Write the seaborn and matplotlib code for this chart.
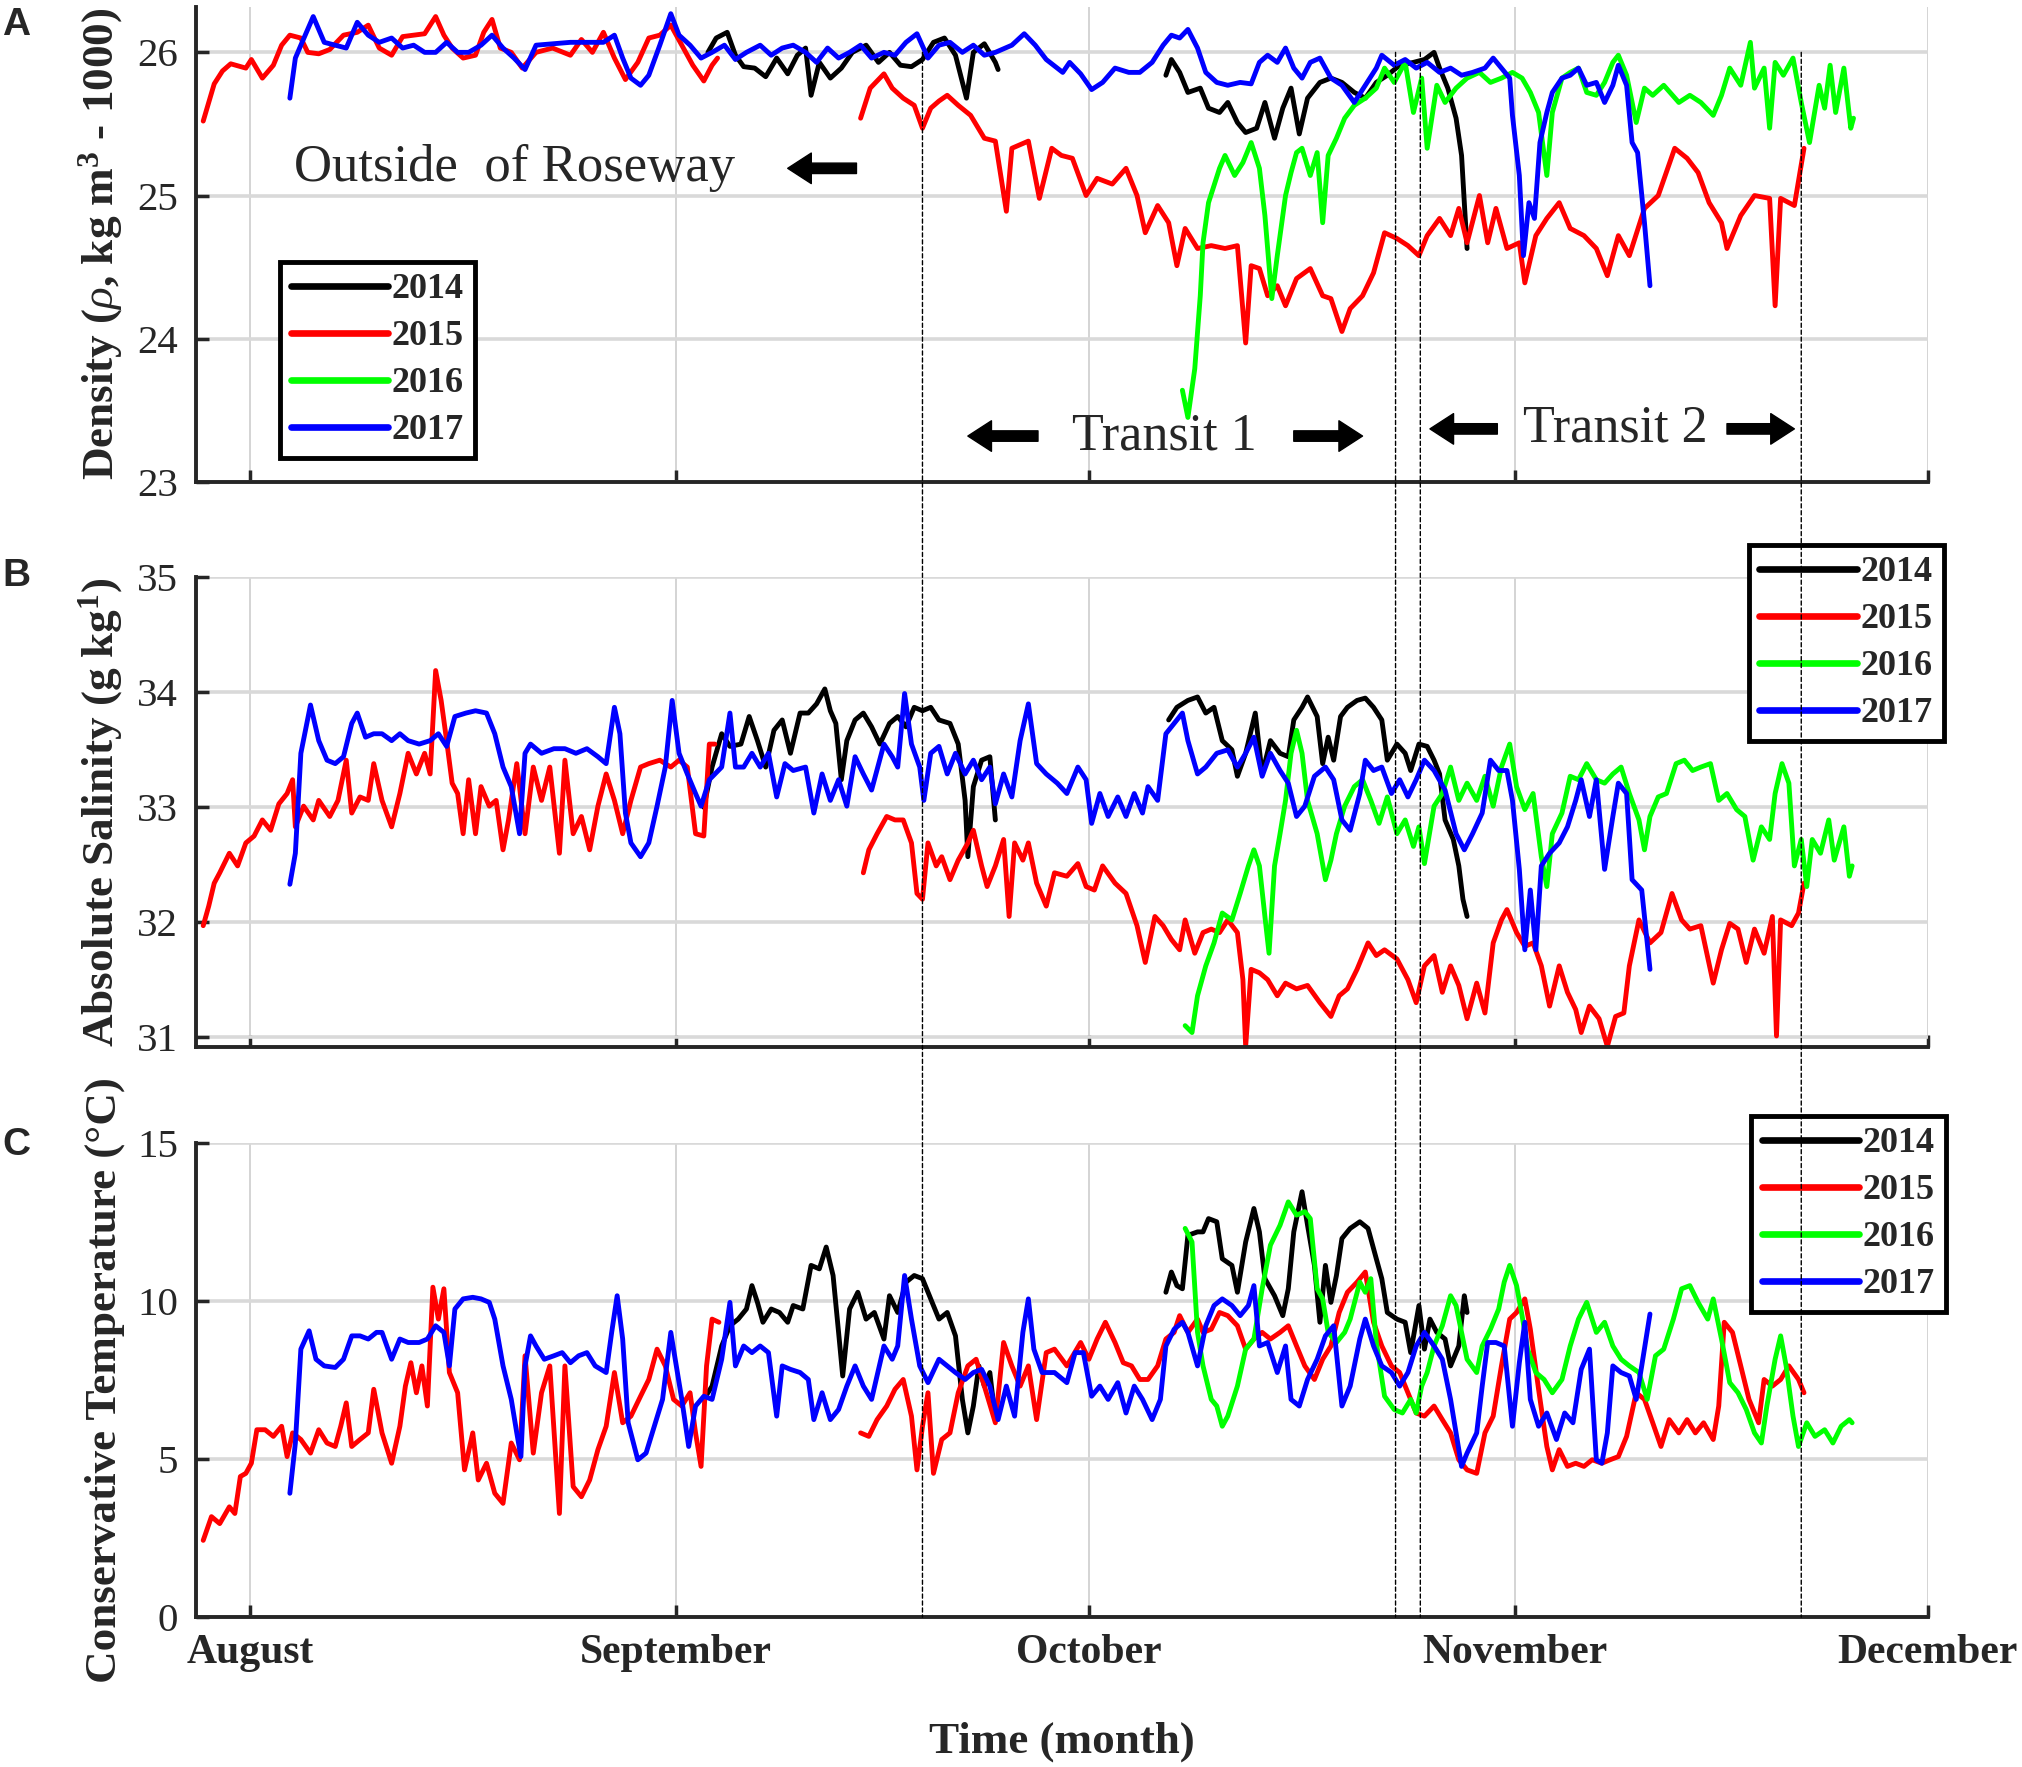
import numpy as np
import pandas as pd
import matplotlib
matplotlib.use('Agg')
from matplotlib import pyplot as plt
from matplotlib.lines import Line2D
from matplotlib.patches import ConnectionPatch
import seaborn as sns

# x = days since 1 August as (day, value)
month_days = [0, 31, 61, 92, 122]
month_names = ['August', 'September', 'October', 'November', 'December']
years = ['2014', '2015', '2016', '2017']
colors = ['#000000', '#ff0000', '#00ff00', '#0000ff']
transit_days = [48.9, 83.3, 85.1, 112.8]

dens_2014 = [(33.3, 26.00), (33.9, 26.10), (34.7, 26.14), (35.3, 25.98), (35.9, 25.90), (36.7, 25.89), (37.5, 25.83),
             (38.3, 25.96), (39.1, 25.85), (39.8, 25.98), (40.4, 26.03), (40.8, 25.70), (41.4, 25.93), (42.2, 25.82),
             (43.0, 25.89), (43.8, 26.00), (44.8, 26.05), (45.7, 25.93), (46.5, 26.00), (47.3, 25.91), (48.1, 25.90),
             (48.9, 25.95), (49.7, 26.07), (50.5, 26.10), (51.3, 25.98), (52.1, 25.68), (52.6, 26.00), (53.4, 26.06),
             (54.2, 25.93), (54.4, 25.88),
             (66.6, 25.84), (67.0, 25.95), (67.6, 25.86), (68.2, 25.72), (69.1, 25.75), (69.7, 25.61), (70.5, 25.58),
             (71.1, 25.65), (71.8, 25.51), (72.4, 25.44), (73.2, 25.47), (73.8, 25.65), (74.5, 25.40), (75.1, 25.61),
             (75.7, 25.75), (76.3, 25.43), (76.9, 25.68), (77.8, 25.79), (78.6, 25.82), (79.4, 25.79), (80.3, 25.72),
             (81.1, 25.68), (81.9, 25.79), (82.7, 25.84), (83.6, 25.91), (84.6, 25.93), (85.4, 25.95), (86.1, 26.00),
             (86.5, 25.89), (87.1, 25.75), (87.7, 25.54), (88.1, 25.28), (88.3, 24.95), (88.5, 24.63)]

dens_2015 = [(-3.4, 25.52), (-2.6, 25.78), (-2.0, 25.87), (-1.4, 25.92), (-0.3, 25.89), (0.1, 25.95), (0.9, 25.82),
             (1.7, 25.91), (2.3, 26.05), (2.9, 26.12), (3.7, 26.10), (4.2, 26.00), (5.0, 25.99), (5.8, 26.02),
             (6.8, 26.12), (7.8, 26.14), (8.6, 26.19), (9.4, 26.03), (10.3, 25.98), (11.1, 26.11), (11.9, 26.12),
             (12.7, 26.13), (13.5, 26.25), (14.1, 26.12), (14.7, 26.03), (15.5, 25.96), (16.4, 25.98), (17.0, 26.14),
             (17.6, 26.23), (18.2, 26.03), (19.0, 26.00), (19.8, 25.89), (20.8, 26.00), (22.0, 26.03), (23.3, 25.98),
             (24.1, 26.09), (24.9, 26.00), (25.7, 26.14), (26.5, 25.96), (27.3, 25.81), (28.2, 25.93), (29.0, 26.10),
             (29.8, 26.12), (30.6, 26.19), (31.4, 26.05), (32.2, 25.91), (33.0, 25.80), (33.6, 25.91), (34.0, 25.96),
             (44.4, 25.54), (45.1, 25.75), (46.1, 25.85), (46.7, 25.75), (47.5, 25.68), (48.3, 25.63), (48.9, 25.47),
             (49.5, 25.61), (50.1, 25.66), (50.7, 25.70), (51.5, 25.63), (52.4, 25.56), (53.4, 25.40), (54.2, 25.38),
             (55.0, 24.89), (55.4, 25.33), (56.6, 25.38), (57.4, 24.98), (58.3, 25.33), (59.0, 25.28), (59.8, 25.26),
             (60.8, 25.00), (61.6, 25.12), (62.7, 25.08), (63.7, 25.19), (64.5, 25.00), (65.1, 24.74), (66.0, 24.93),
             (66.8, 24.81), (67.4, 24.51), (68.0, 24.77), (68.9, 24.63), (69.9, 24.65), (70.9, 24.63), (71.8, 24.65),
             (72.4, 23.97), (72.8, 24.51), (73.4, 24.49), (74.0, 24.30), (74.7, 24.37), (75.3, 24.23), (76.1, 24.42),
             (77.1, 24.49), (78.0, 24.30), (78.6, 24.28), (79.4, 24.05), (80.0, 24.21), (80.9, 24.30), (81.7, 24.46),
             (82.5, 24.74), (83.4, 24.70), (84.2, 24.65), (85.0, 24.58), (85.6, 24.72), (86.5, 24.84), (87.3, 24.72),
             (87.9, 24.91), (88.5, 24.67), (89.4, 25.00), (90.0, 24.67), (90.6, 24.91), (91.4, 24.63), (92.3, 24.67),
             (92.7, 24.39), (93.5, 24.72), (94.3, 24.84), (95.2, 24.95), (96.0, 24.77), (97.0, 24.72), (97.9, 24.63),
             (98.7, 24.44), (99.5, 24.72), (100.3, 24.58), (101.4, 24.91), (102.4, 25.00), (103.6, 25.33),
             (104.5, 25.26), (105.3, 25.16), (106.1, 24.95), (107.0, 24.81), (107.4, 24.63), (108.4, 24.86),
             (109.4, 25.00), (110.5, 24.98), (110.9, 24.23), (111.3, 24.98), (112.3, 24.93), (113.0, 25.33)]

dens_2016 = [(67.8, 23.64), (68.2, 23.45), (68.7, 23.79), (69.1, 24.30), (69.3, 24.67), (69.7, 24.95), (70.5, 25.19),
             (70.9, 25.28), (71.6, 25.14), (72.2, 25.23), (72.8, 25.37), (73.4, 25.19), (73.8, 24.86), (74.3, 24.28),
             (74.7, 24.58), (75.3, 25.00), (75.7, 25.16), (76.1, 25.30), (76.5, 25.33), (77.1, 25.14), (77.6, 25.30),
             (78.0, 24.81), (78.4, 25.28), (79.0, 25.40), (79.6, 25.54), (80.3, 25.63), (81.1, 25.68), (81.9, 25.75),
             (82.5, 25.89), (83.2, 25.79), (84.0, 25.93), (84.6, 25.58), (85.2, 25.82), (85.6, 25.33), (86.3, 25.77),
             (86.9, 25.65), (87.7, 25.75), (88.5, 25.82), (89.4, 25.86), (90.2, 25.79), (91.0, 25.82), (91.8, 25.86),
             (92.5, 25.82), (93.1, 25.72), (93.7, 25.58), (94.3, 25.14), (94.7, 25.58), (95.4, 25.82), (96.0, 25.86),
             (96.6, 25.89), (97.2, 25.72), (97.9, 25.70), (98.5, 25.79), (99.1, 25.93), (99.5, 25.98), (100.1, 25.84),
             (100.8, 25.51), (101.4, 25.75), (102.0, 25.70), (102.8, 25.77), (103.9, 25.65), (104.7, 25.70),
             (105.5, 25.65), (106.4, 25.56), (107.0, 25.70), (107.6, 25.89), (108.4, 25.77), (109.1, 26.07),
             (109.4, 25.75), (110.1, 25.89), (110.5, 25.47), (110.9, 25.93), (111.5, 25.84), (112.2, 25.96),
             (112.8, 25.65), (113.4, 25.37), (114.1, 25.77), (114.5, 25.61), (114.9, 25.91), (115.3, 25.58),
             (115.9, 25.89), (116.4, 25.47), (116.6, 25.54)]

dens_2017 = [(2.9, 25.68), (3.3, 25.96), (3.7, 26.05), (4.6, 26.25), (5.4, 26.07), (6.2, 26.05), (7.0, 26.03),
             (7.8, 26.21), (8.6, 26.12), (9.4, 26.07), (10.3, 26.10), (11.1, 26.03), (11.9, 26.05), (12.7, 26.00),
             (13.5, 26.00), (14.3, 26.07), (15.1, 26.00), (15.9, 26.00), (16.8, 26.05), (17.6, 26.12), (18.4, 26.03),
             (19.2, 25.96), (20.0, 25.88), (20.8, 26.05), (22.1, 26.06), (23.3, 26.07), (24.5, 26.07), (25.7, 26.07),
             (26.5, 26.12), (27.1, 25.96), (27.7, 25.82), (28.4, 25.77), (29.0, 25.84), (29.8, 26.05), (30.6, 26.27),
             (31.2, 26.12), (32.0, 26.05), (32.8, 25.96), (33.6, 26.00), (34.5, 26.05), (35.3, 25.95), (36.1, 26.00),
             (37.1, 26.05), (37.9, 25.98), (38.7, 26.03), (39.5, 26.05), (40.4, 26.00), (41.2, 25.93), (42.0, 26.03),
             (42.8, 25.96), (43.6, 26.00), (44.4, 26.05), (45.2, 25.96), (46.1, 26.00), (46.9, 25.98), (47.7, 26.07),
             (48.5, 26.13), (49.3, 25.96), (50.1, 26.05), (50.9, 26.07), (51.8, 26.00), (52.6, 26.05), (53.4, 25.98),
             (54.2, 26.00), (55.4, 26.05), (56.3, 26.13), (57.1, 26.05), (57.9, 25.95), (59.1, 25.86), (59.6, 25.93),
             (60.4, 25.85), (61.2, 25.74), (62.0, 25.79), (62.9, 25.89), (63.9, 25.86), (64.7, 25.86), (65.6, 25.93),
             (66.4, 26.05), (67.0, 26.12), (67.6, 26.10), (68.2, 26.16), (68.9, 26.03), (69.5, 25.86), (70.3, 25.79),
             (71.1, 25.77), (72.0, 25.79), (72.8, 25.78), (73.4, 25.93), (74.0, 25.98), (74.7, 25.93), (75.3, 26.03),
             (75.9, 25.89), (76.5, 25.82), (77.1, 25.93), (77.8, 25.96), (78.6, 25.82), (79.4, 25.77), (80.3, 25.65),
             (81.1, 25.77), (81.9, 25.89), (82.3, 25.98), (83.2, 25.91), (84.0, 25.95), (84.8, 25.89), (85.6, 25.93),
             (86.5, 25.86), (87.3, 25.89), (88.1, 25.84), (88.9, 25.86), (89.8, 25.89), (90.4, 25.96), (91.0, 25.89),
             (91.6, 25.82), (91.8, 25.56), (92.3, 25.14), (92.6, 24.58), (93.0, 24.95), (93.4, 24.84), (93.8, 25.37),
             (94.3, 25.58), (94.7, 25.72), (95.4, 25.82), (96.0, 25.84), (96.6, 25.89), (97.2, 25.77), (97.9, 25.79),
             (98.5, 25.65), (99.1, 25.77), (99.5, 25.91), (100.1, 25.77), (100.5, 25.37), (100.9, 25.30),
             (101.4, 24.81), (101.8, 24.37)]

sal_2014 = [(33.0, 33.00), (33.6, 33.35), (34.3, 33.64), (34.9, 33.53), (35.7, 33.55), (36.3, 33.79), (36.9, 33.58),
            (37.5, 33.35), (38.1, 33.67), (38.7, 33.76), (39.3, 33.47), (40.0, 33.82), (40.6, 33.82), (41.2, 33.90),
            (41.8, 34.03), (42.2, 33.84), (42.6, 33.73), (43.0, 33.24), (43.4, 33.58), (44.0, 33.76), (44.6, 33.82),
            (45.2, 33.70), (45.8, 33.55), (46.5, 33.73), (47.1, 33.79), (47.7, 33.70), (48.3, 33.87), (48.9, 33.84),
            (49.5, 33.87), (50.1, 33.76), (50.9, 33.73), (51.5, 33.55), (52.0, 33.06), (52.2, 32.57), (52.6, 33.18),
            (53.2, 33.41), (53.8, 33.44), (54.2, 32.89),
            (66.8, 33.76), (67.4, 33.87), (68.2, 33.93), (68.9, 33.96), (69.5, 33.82), (70.1, 33.87), (70.7, 33.58),
            (71.4, 33.50), (71.8, 33.27), (72.4, 33.47), (73.1, 33.82), (73.6, 33.29), (74.2, 33.58), (74.9, 33.47),
            (75.5, 33.44), (75.9, 33.76), (76.5, 33.87), (76.9, 33.96), (77.6, 33.79), (78.0, 33.38), (78.4, 33.61),
            (78.8, 33.41), (79.3, 33.79), (79.8, 33.87), (80.5, 33.93), (81.1, 33.95), (81.7, 33.87), (82.3, 33.76),
            (82.7, 33.41), (83.4, 33.55), (84.0, 33.47), (84.4, 33.32), (85.0, 33.55), (85.6, 33.53), (86.1, 33.41),
            (86.5, 33.29), (86.9, 32.89), (87.5, 32.72), (87.9, 32.49), (88.2, 32.20), (88.5, 32.05)]

sal_2015 = [(-3.4, 31.97), (-3.0, 32.14), (-2.6, 32.34), (-2.2, 32.43), (-1.5, 32.60), (-0.9, 32.49), (-0.3, 32.69),
            (0.3, 32.75), (0.9, 32.89), (1.5, 32.80), (2.1, 33.03), (2.7, 33.12), (3.1, 33.24), (3.3, 32.83),
            (3.9, 33.01), (4.6, 32.89), (5.0, 33.06), (5.8, 32.92), (6.4, 33.06), (7.0, 33.41), (7.4, 32.95),
            (8.0, 33.09), (8.6, 33.06), (9.0, 33.38), (9.6, 33.06), (10.3, 32.83), (10.9, 33.12), (11.5, 33.47),
            (12.1, 33.29), (12.7, 33.47), (13.1, 33.29), (13.5, 34.19), (13.9, 33.93), (14.3, 33.58), (14.7, 33.21),
            (15.1, 33.12), (15.5, 32.77), (15.9, 33.24), (16.4, 32.77), (16.8, 33.18), (17.4, 33.01), (17.9, 33.06),
            (18.4, 32.63), (18.8, 32.89), (19.4, 33.38), (20.0, 32.77), (20.6, 33.35), (21.2, 33.06), (21.8, 33.35),
            (22.5, 32.60), (22.9, 33.41), (23.5, 32.77), (24.1, 32.92), (24.7, 32.63), (25.3, 33.01), (25.9, 33.29),
            (26.5, 33.06), (27.1, 32.77), (27.7, 33.06), (28.4, 33.35), (29.0, 33.38), (29.8, 33.41), (30.6, 33.35),
            (31.2, 33.41), (31.8, 33.35), (32.4, 32.77), (33.0, 32.75), (33.4, 33.55), (33.8, 33.55),
            (44.6, 32.43), (45.0, 32.63), (45.6, 32.77), (46.3, 32.92), (46.9, 32.89), (47.5, 32.89), (48.1, 32.69),
            (48.5, 32.25), (48.9, 32.20), (49.3, 32.69), (49.9, 32.49), (50.3, 32.57), (50.9, 32.37), (51.5, 32.54),
            (52.2, 32.69), (52.6, 32.80), (53.2, 32.49), (53.6, 32.31), (54.2, 32.49), (54.8, 32.72), (55.2, 32.05),
            (55.6, 32.69), (56.2, 32.54), (56.6, 32.69), (57.2, 32.34), (57.9, 32.14), (58.5, 32.43), (59.4, 32.40),
            (60.2, 32.51), (60.8, 32.31), (61.4, 32.28), (62.0, 32.49), (62.9, 32.34), (63.7, 32.25), (64.5, 31.97),
            (65.1, 31.65), (65.8, 32.05), (66.4, 31.97), (67.0, 31.85), (67.6, 31.76), (68.0, 32.02), (68.7, 31.73),
            (69.3, 31.91), (69.9, 31.94), (70.5, 31.91), (71.1, 32.02), (71.8, 31.91), (72.2, 31.50), (72.4, 30.92),
            (72.8, 31.59), (73.4, 31.56), (74.0, 31.50), (74.7, 31.36), (75.3, 31.47), (76.1, 31.42), (76.9, 31.45),
            (77.8, 31.30), (78.6, 31.18), (79.2, 31.36), (79.8, 31.42), (80.5, 31.59), (81.3, 31.82), (81.9, 31.71),
            (82.5, 31.76), (83.4, 31.68), (84.2, 31.50), (84.8, 31.30), (85.4, 31.62), (86.1, 31.71), (86.7, 31.39),
            (87.3, 31.62), (87.9, 31.45), (88.5, 31.16), (89.2, 31.47), (89.8, 31.21), (90.4, 31.82), (91.0, 32.02),
            (91.4, 32.11), (92.1, 31.91), (92.7, 31.79), (93.3, 31.82), (93.9, 31.62), (94.5, 31.27), (95.2, 31.62),
            (95.8, 31.39), (96.4, 31.24), (96.8, 31.04), (97.4, 31.27), (98.1, 31.16), (98.7, 30.92), (99.3, 31.18),
            (99.9, 31.21), (100.3, 31.62), (101.0, 32.02), (101.8, 31.82), (102.6, 31.91), (103.4, 32.25),
            (104.1, 32.02), (104.7, 31.94), (105.5, 31.97), (106.4, 31.47), (107.0, 31.76), (107.6, 31.99),
            (108.2, 31.94), (108.8, 31.65), (109.4, 31.94), (110.1, 31.73), (110.7, 32.05), (111.0, 31.01),
            (111.3, 32.02), (112.1, 31.97), (112.6, 32.08), (113.0, 32.34)]

sal_2016 = [(68.0, 31.10), (68.5, 31.04), (68.9, 31.36), (69.5, 31.62), (70.1, 31.82), (70.7, 32.08), (71.4, 32.02),
            (72.0, 32.25), (72.6, 32.49), (73.0, 32.63), (73.4, 32.49), (73.8, 32.05), (74.1, 31.73), (74.5, 32.49),
            (74.9, 32.77), (75.3, 33.06), (75.7, 33.47), (76.1, 33.67), (76.5, 33.47), (76.9, 33.06), (77.6, 32.77),
            (78.2, 32.37), (78.6, 32.54), (79.0, 32.77), (79.6, 33.01), (80.3, 33.18), (80.9, 33.24), (81.5, 33.06),
            (82.1, 32.86), (82.7, 33.09), (83.4, 32.77), (84.0, 32.89), (84.6, 32.66), (85.0, 32.83), (85.4, 32.51),
            (86.1, 33.01), (86.7, 33.12), (87.3, 33.35), (87.9, 33.06), (88.5, 33.21), (89.2, 33.06), (89.8, 33.27),
            (90.4, 33.01), (91.0, 33.35), (91.6, 33.55), (92.1, 33.18), (92.7, 32.98), (93.3, 33.12), (93.9, 32.57),
            (94.3, 32.31), (94.7, 32.77), (95.4, 32.95), (96.0, 33.27), (96.6, 33.24), (97.2, 33.38), (97.9, 33.24),
            (98.5, 33.21), (99.1, 33.29), (99.7, 33.35), (100.3, 33.12), (101.0, 32.89), (101.4, 32.63),
            (101.8, 32.92), (102.4, 33.09), (103.0, 33.12), (103.7, 33.38), (104.3, 33.41), (104.9, 33.32),
            (105.5, 33.35), (106.2, 33.38), (106.8, 33.06), (107.4, 33.12), (108.1, 32.98), (108.7, 32.92),
            (109.3, 32.54), (109.9, 32.83), (110.5, 32.72), (110.9, 33.12), (111.4, 33.38), (111.9, 33.21),
            (112.3, 32.49), (112.8, 32.72), (113.2, 32.31), (113.6, 32.72), (114.2, 32.60), (114.8, 32.89),
            (115.2, 32.54), (115.9, 32.83), (116.3, 32.40), (116.5, 32.49)]

sal_2017 = [(2.9, 32.33), (3.3, 32.60), (3.7, 33.47), (4.4, 33.89), (5.0, 33.58), (5.6, 33.41), (6.2, 33.38),
            (6.8, 33.44), (7.4, 33.73), (7.8, 33.82), (8.4, 33.61), (9.0, 33.64), (9.6, 33.64), (10.3, 33.58),
            (10.9, 33.64), (11.5, 33.58), (12.3, 33.55), (13.1, 33.58), (13.7, 33.64), (14.3, 33.53), (14.9, 33.79),
            (15.7, 33.82), (16.4, 33.84), (17.2, 33.82), (17.8, 33.64), (18.4, 33.35), (19.0, 33.18), (19.6, 32.77),
            (20.0, 33.47), (20.4, 33.55), (21.2, 33.47), (22.1, 33.51), (22.9, 33.51), (23.7, 33.47), (24.5, 33.51),
            (25.3, 33.44), (25.9, 33.38), (26.5, 33.87), (26.9, 33.64), (27.3, 32.95), (27.7, 32.69), (28.4, 32.57),
            (29.0, 32.69), (29.6, 33.01), (30.2, 33.35), (30.7, 33.93), (31.2, 33.47), (31.8, 33.29), (32.4, 33.12),
            (32.8, 33.01), (33.4, 33.24), (34.3, 33.35), (34.9, 33.82), (35.3, 33.35), (35.9, 33.35), (36.5, 33.47),
            (37.1, 33.35), (37.7, 33.47), (38.3, 33.09), (38.9, 33.38), (39.5, 33.32), (40.4, 33.35), (41.0, 32.95),
            (41.6, 33.29), (42.2, 33.06), (42.8, 33.24), (43.4, 33.01), (44.0, 33.44), (44.6, 33.29), (45.2, 33.15),
            (46.1, 33.55), (46.7, 33.44), (47.1, 33.35), (47.6, 33.99), (48.1, 33.55), (48.7, 33.35), (49.0, 33.06),
            (49.5, 33.47), (50.1, 33.53), (50.7, 33.29), (51.3, 33.47), (52.0, 33.29), (52.6, 33.41), (53.2, 33.24),
            (53.8, 33.35), (54.2, 33.03), (54.8, 33.29), (55.4, 33.09), (56.0, 33.58), (56.6, 33.90), (57.2, 33.38),
            (57.9, 33.29), (58.7, 33.21), (59.4, 33.12), (60.2, 33.35), (60.8, 33.24), (61.2, 32.86), (61.8, 33.12),
            (62.4, 32.92), (63.1, 33.09), (63.7, 32.92), (64.3, 33.12), (64.9, 32.95), (65.3, 33.18), (66.0, 33.06),
            (66.6, 33.64), (67.2, 33.73), (67.8, 33.82), (68.2, 33.58), (68.9, 33.29), (69.5, 33.35), (70.3, 33.47),
            (71.1, 33.50), (71.8, 33.35), (72.4, 33.47), (73.0, 33.61), (73.6, 33.27), (74.2, 33.47), (74.9, 33.32),
            (75.5, 33.21), (76.1, 32.92), (76.7, 33.01), (77.4, 33.27), (78.2, 33.35), (78.8, 33.24), (79.4, 32.89),
            (80.0, 32.80), (80.7, 33.12), (81.1, 33.41), (81.7, 33.32), (82.3, 33.35), (83.0, 33.12), (83.6, 33.24),
            (84.2, 33.09), (84.8, 33.24), (85.4, 33.41), (86.1, 33.32), (86.9, 33.15), (87.7, 32.77), (88.3, 32.63),
            (88.9, 32.77), (89.6, 32.95), (90.2, 33.41), (90.8, 33.32), (91.4, 33.32), (91.8, 33.06), (92.3, 32.46),
            (92.7, 31.76), (93.1, 32.28), (93.5, 31.76), (93.9, 32.49), (94.5, 32.60), (95.2, 32.69), (95.8, 32.83),
            (96.4, 33.06), (96.8, 33.24), (97.4, 32.92), (97.9, 33.24), (98.5, 32.46), (99.1, 32.92), (99.5, 33.21),
            (100.1, 33.12), (100.5, 32.37), (101.2, 32.28), (101.8, 31.59)]

temp_2014 = [(33.0, 6.89), (33.6, 7.31), (34.3, 8.58), (34.9, 9.22), (35.5, 9.43), (36.1, 9.75), (36.5, 10.49),
             (36.9, 9.96), (37.3, 9.33), (37.9, 9.75), (38.5, 9.64), (39.1, 9.33), (39.5, 9.86), (40.2, 9.75),
             (40.8, 11.13), (41.4, 11.02), (41.9, 11.71), (42.4, 10.81), (42.8, 9.01), (43.1, 7.63), (43.6, 9.75),
             (44.2, 10.28), (44.8, 9.43), (45.4, 9.64), (46.1, 8.80), (46.5, 10.17), (47.1, 9.64), (47.7, 10.60),
             (48.3, 10.81), (48.9, 10.71), (49.5, 10.07), (50.1, 9.43), (50.7, 9.64), (51.3, 8.90), (51.8, 6.89),
             (52.2, 5.83), (52.6, 6.68), (53.0, 7.95), (53.4, 7.31), (53.8, 7.74), (54.2, 6.25),
             (66.6, 10.28), (67.0, 10.92), (67.4, 10.49), (67.8, 10.39), (68.2, 12.08), (68.9, 12.19), (69.3, 12.19),
             (69.7, 12.61), (70.3, 12.51), (70.7, 11.34), (71.4, 11.13), (71.8, 10.28), (72.4, 11.87), (73.0, 12.93),
             (73.4, 12.19), (73.8, 10.71), (74.5, 10.17), (75.1, 9.54), (75.5, 10.39), (75.9, 12.19), (76.5, 13.46),
             (76.9, 12.40), (77.4, 11.13), (77.8, 9.33), (78.2, 11.13), (78.6, 9.96), (79.0, 10.81), (79.4, 11.98),
             (80.0, 12.30), (80.7, 12.51), (81.3, 12.30), (81.9, 11.34), (82.3, 10.71), (82.7, 9.64), (83.4, 9.43),
             (84.0, 9.33), (84.4, 8.37), (85.0, 9.86), (85.4, 8.48), (85.8, 9.43), (86.3, 9.01), (86.9, 8.80),
             (87.3, 7.95), (87.9, 8.58), (88.3, 10.17), (88.5, 9.64)]

temp_2015 = [(-3.4, 2.43), (-2.8, 3.18), (-2.2, 2.96), (-1.5, 3.49), (-1.1, 3.28), (-0.7, 4.45), (-0.3, 4.55),
             (0.1, 4.87), (0.5, 5.93), (1.1, 5.93), (1.7, 5.72), (2.3, 6.04), (2.7, 5.08), (3.1, 5.83), (3.7, 5.62),
             (4.4, 5.19), (5.0, 5.93), (5.6, 5.51), (6.2, 5.40), (6.6, 6.04), (7.0, 6.78), (7.4, 5.40), (8.0, 5.62),
             (8.6, 5.83), (9.0, 7.21), (9.6, 5.83), (10.3, 4.87), (10.9, 6.04), (11.3, 7.31), (11.7, 8.05),
             (12.1, 7.10), (12.5, 7.95), (12.9, 6.68), (13.3, 10.44), (13.7, 9.43), (14.1, 10.39), (14.5, 7.74),
             (15.1, 7.10), (15.6, 4.66), (16.2, 5.83), (16.6, 4.34), (17.2, 4.87), (17.8, 3.92), (18.4, 3.60),
             (19.0, 5.51), (19.6, 4.98), (20.0, 8.27), (20.6, 5.19), (21.2, 7.10), (21.8, 7.95), (22.5, 3.28),
             (22.9, 7.95), (23.5, 4.13), (24.1, 3.81), (24.7, 4.34), (25.3, 5.30), (25.9, 6.04), (26.5, 7.74),
             (27.1, 6.15), (27.7, 6.36), (28.4, 6.99), (29.0, 7.52), (29.6, 8.48), (30.2, 7.95), (30.8, 6.89),
             (31.4, 6.68), (32.0, 7.10), (32.4, 5.83), (32.8, 4.77), (33.2, 7.95), (33.6, 9.43), (34.1, 9.33),
             (44.4, 5.83), (45.0, 5.72), (45.6, 6.25), (46.3, 6.68), (46.9, 7.21), (47.5, 7.52), (48.1, 6.36),
             (48.5, 4.66), (48.9, 6.04), (49.3, 7.10), (49.7, 4.55), (50.3, 5.62), (50.9, 5.83), (51.5, 7.10),
             (52.2, 7.95), (52.8, 8.16), (53.4, 7.31), (54.2, 6.15), (54.8, 8.69), (55.4, 7.95), (56.0, 7.31),
             (56.6, 7.95), (57.2, 6.25), (57.9, 8.37), (58.5, 8.48), (59.4, 7.95), (60.4, 8.69), (61.0, 8.16),
             (61.6, 8.80), (62.2, 9.33), (62.9, 8.69), (63.5, 8.05), (64.1, 7.95), (64.7, 7.52), (65.3, 7.52),
             (66.0, 7.95), (66.6, 8.80), (67.2, 9.01), (67.6, 9.54), (68.2, 9.01), (68.9, 9.43), (69.3, 9.01),
             (69.9, 9.11), (70.5, 9.64), (71.1, 9.54), (71.8, 9.22), (72.4, 8.48), (73.0, 8.80), (73.6, 9.01),
             (74.2, 8.80), (74.9, 9.01), (75.5, 9.22), (76.1, 8.58), (76.7, 7.95), (77.4, 7.52), (78.0, 8.16),
             (78.6, 8.58), (79.2, 9.64), (79.8, 10.28), (80.5, 10.60), (81.1, 10.92), (81.7, 9.33), (82.3, 8.58),
             (83.0, 7.95), (83.6, 7.74), (84.2, 7.10), (84.8, 6.46), (85.4, 6.36), (86.1, 6.68), (86.7, 6.25),
             (87.3, 5.83), (87.9, 4.98), (88.5, 4.66), (89.2, 4.55), (89.8, 5.83), (90.4, 6.36), (91.0, 7.95),
             (91.6, 9.43), (92.1, 9.64), (92.7, 10.07), (93.1, 9.11), (93.7, 7.21), (94.3, 5.40), (94.7, 4.66),
             (95.2, 5.30), (95.8, 4.77), (96.4, 4.87), (97.0, 4.77), (97.6, 4.98), (98.3, 4.87), (98.9, 4.98),
             (99.5, 5.08), (100.1, 5.72), (100.8, 7.10), (101.4, 6.89), (102.0, 6.15), (102.6, 5.40), (103.2, 6.25),
             (103.9, 5.83), (104.5, 6.25), (105.1, 5.83), (105.7, 6.15), (106.4, 5.62), (106.8, 6.68), (107.2, 9.33),
             (107.8, 9.01), (108.4, 7.95), (109.0, 6.89), (109.7, 6.15), (110.1, 7.52), (110.7, 7.31), (111.3, 7.52),
             (111.9, 7.95), (112.6, 7.52), (113.0, 7.10)]

temp_2016 = [(68.0, 12.30), (68.5, 11.87), (68.9, 9.01), (69.3, 7.95), (69.9, 6.89), (70.3, 6.68), (70.7, 6.04),
             (71.1, 6.36), (71.8, 7.31), (72.4, 8.48), (73.0, 8.80), (73.6, 10.39), (74.2, 11.77), (74.9, 12.40),
             (75.5, 13.14), (76.1, 12.72), (76.7, 12.83), (77.1, 12.61), (77.6, 10.39), (78.0, 10.07), (78.4, 9.01),
             (79.0, 8.69), (79.6, 9.01), (80.0, 9.43), (80.7, 10.60), (81.1, 10.28), (81.5, 10.71), (81.9, 8.69),
             (82.5, 6.99), (83.2, 6.57), (83.8, 6.46), (84.4, 6.89), (84.8, 6.46), (85.2, 7.31), (85.6, 7.74),
             (86.1, 8.58), (86.7, 9.22), (87.3, 10.17), (87.7, 9.86), (88.1, 9.01), (88.5, 8.16), (89.2, 7.74),
             (89.6, 8.58), (90.2, 9.11), (90.8, 9.75), (91.2, 10.60), (91.6, 11.13), (92.1, 10.49), (92.5, 9.54),
             (92.9, 8.48), (93.5, 7.74), (94.1, 7.52), (94.7, 7.10), (95.4, 7.52), (96.0, 8.58), (96.6, 9.43),
             (97.2, 9.96), (97.9, 9.01), (98.5, 9.33), (99.1, 8.58), (99.7, 8.16), (100.3, 7.95), (101.0, 7.74),
             (101.6, 6.89), (102.2, 8.27), (102.8, 8.48), (103.5, 9.43), (104.1, 10.39), (104.7, 10.49),
             (105.3, 9.96), (106.0, 9.43), (106.4, 10.07), (107.0, 8.80), (107.6, 7.42), (108.2, 7.10), (108.8, 6.57),
             (109.4, 5.83), (109.9, 5.51), (110.3, 6.68), (110.9, 8.16), (111.3, 8.90), (111.7, 7.95), (112.2, 6.36),
             (112.6, 5.40), (113.2, 6.15), (113.8, 5.72), (114.5, 5.93), (115.1, 5.51), (115.7, 6.04), (116.3, 6.25),
             (116.5, 6.15)]

temp_2017 = [(2.9, 3.92), (3.3, 5.51), (3.7, 8.48), (4.3, 9.06), (4.8, 8.16), (5.4, 7.95), (6.2, 7.90), (6.8, 8.16),
             (7.4, 8.90), (8.0, 8.90), (8.6, 8.80), (9.2, 9.01), (9.6, 9.01), (10.3, 8.16), (10.9, 8.80), (11.5, 8.69),
             (12.3, 8.69), (12.9, 8.80), (13.5, 9.22), (14.1, 9.01), (14.5, 7.95), (14.9, 9.75), (15.5, 10.07),
             (16.2, 10.12), (16.8, 10.07), (17.4, 9.96), (17.8, 9.43), (18.4, 7.95), (19.0, 6.89), (19.4, 5.83),
             (19.7, 5.08), (20.0, 7.95), (20.4, 8.90), (20.8, 8.58), (21.4, 8.16), (22.1, 8.27), (22.7, 8.37),
             (23.3, 8.05), (23.9, 8.27), (24.5, 8.37), (25.1, 7.95), (25.9, 7.74), (26.3, 9.01), (26.7, 10.17),
             (27.1, 8.80), (27.5, 6.15), (28.2, 4.98), (28.8, 5.19), (29.4, 6.04), (30.0, 6.89), (30.6, 9.01),
             (31.0, 7.95), (31.4, 6.89), (31.9, 5.40), (32.4, 6.68), (33.0, 6.99), (33.6, 6.89), (34.3, 8.16),
             (34.9, 9.96), (35.3, 7.95), (35.9, 8.58), (36.5, 8.37), (37.1, 8.58), (37.7, 8.37), (38.3, 6.36),
             (38.7, 7.95), (39.3, 7.84), (40.0, 7.74), (40.6, 7.52), (41.0, 6.25), (41.6, 7.10), (42.2, 6.25),
             (42.8, 6.57), (43.4, 7.31), (44.0, 7.95), (44.6, 7.31), (45.2, 6.89), (46.1, 8.58), (46.7, 8.16),
             (47.1, 8.58), (47.6, 10.81), (48.1, 9.43), (48.7, 7.95), (49.3, 7.42), (50.1, 8.16), (50.7, 7.95),
             (51.3, 7.74), (52.0, 7.52), (52.6, 7.74), (53.2, 7.84), (53.8, 7.31), (54.4, 6.25), (55.0, 7.31),
             (55.6, 6.36), (56.2, 9.01), (56.6, 10.07), (57.0, 8.48), (57.6, 7.74), (58.5, 7.74), (59.4, 7.42),
             (60.0, 8.37), (60.6, 8.37), (61.2, 6.99), (61.8, 7.31), (62.4, 6.89), (63.1, 7.42), (63.7, 6.46),
             (64.3, 7.31), (64.9, 6.89), (65.6, 6.25), (66.2, 6.89), (66.6, 8.58), (67.2, 9.11), (67.8, 9.33),
             (68.2, 9.01), (68.9, 7.95), (69.5, 9.22), (70.1, 9.86), (70.7, 10.07), (71.4, 9.86), (72.0, 9.54),
             (72.6, 9.86), (73.0, 10.49), (73.4, 8.58), (74.0, 8.69), (74.7, 7.74), (75.3, 8.58), (75.7, 6.89),
             (76.3, 6.68), (76.9, 7.52), (77.6, 8.16), (78.2, 8.90), (78.8, 9.22), (79.4, 6.68), (80.0, 7.31),
             (80.7, 8.80), (81.1, 9.43), (81.7, 8.58), (82.3, 7.95), (83.0, 7.74), (83.6, 7.31), (84.2, 7.74),
             (84.8, 8.58), (85.4, 9.01), (86.1, 8.58), (86.7, 8.16), (87.3, 6.89), (87.7, 5.83), (88.1, 4.77),
             (88.5, 5.19), (89.2, 5.83), (89.6, 7.31), (90.0, 8.69), (90.6, 8.69), (91.2, 8.58), (91.8, 6.04),
             (92.3, 8.05), (92.7, 9.33), (93.1, 6.89), (93.7, 6.04), (94.3, 6.46), (95.0, 5.62), (95.6, 6.46),
             (96.2, 6.15), (96.8, 7.84), (97.4, 8.48), (97.9, 4.98), (98.3, 4.87), (98.7, 5.83), (99.1, 7.95),
             (99.7, 7.74), (100.3, 7.63), (100.8, 6.89), (101.2, 7.95), (101.8, 9.59)]

density = {'2014': dens_2014, '2015': dens_2015, '2016': dens_2016, '2017': dens_2017}
salinity = {'2014': sal_2014, '2015': sal_2015, '2016': sal_2016, '2017': sal_2017}
temperature = {'2014': temp_2014, '2015': temp_2015, '2016': temp_2016, '2017': temp_2017}


def to_frame(series):
    frames = []
    for year, pts in series.items():
        arr = np.array(pts)
        # a jump of more than 5 days is a gap in the record
        seg = np.concatenate([[0], np.cumsum(np.diff(arr[:, 0]) > 5)])
        frames.append(pd.DataFrame({'day': arr[:, 0], 'value': arr[:, 1], 'year': year,
                                    'seg': [f'{year}-{s}' for s in seg]}))
    return pd.concat(frames, ignore_index=True)


sns.set_style('ticks')
plt.rcParams['font.family'] = ['Liberation Serif', 'DejaVu Serif']
plt.rcParams['mathtext.fontset'] = 'custom'
plt.rcParams['mathtext.rm'] = 'Liberation Serif'
plt.rcParams['mathtext.it'] = 'Liberation Serif:italic'
plt.rcParams['mathtext.bf'] = 'Liberation Serif:bold'

palette = dict(zip(years, colors))
fig = plt.figure(figsize=(20.22, 17.67), dpi=100)
axA = fig.add_axes([0.0969, 0.7273, 0.8565, 0.2690])
axB = fig.add_axes([0.0969, 0.4072, 0.8565, 0.2660])
axC = fig.add_axes([0.0969, 0.0848, 0.8565, 0.2683])

panels = [
    (axA, density, (23, 26.32), [23, 24, 25, 26], r'Density ($\rho$, kg m$^{\mathbf{3}}$ - 1000)'),
    (axB, salinity, (30.91, 35), [31, 32, 33, 34, 35], r'Absolute Salinity (g kg$^{\mathbf{1}}$)'),
    (axC, temperature, (0, 15), [0, 5, 10, 15], 'Conservative Temperature (°C)'),
]

for ax, series, ylim, yticks, ylabel in panels:
    df = to_frame(series)
    sns.lineplot(data=df, x='day', y='value', hue='year', hue_order=years, units='seg',
                 estimator=None, sort=False, palette=palette, linewidth=3.5, legend=False, ax=ax)
    ax.set_xlim(-3.93, 122)
    ax.set_ylim(*ylim)
    ax.set_yticks(yticks)
    ax.set_xticks(month_days)
    ax.set_axisbelow(True)
    ax.grid(axis='y', color='#d9d9d9', linewidth=2.6)
    ax.grid(axis='x', color='#d4d4d4', linewidth=1.4)
    for s in ['top', 'right']:
        ax.spines[s].set_visible(False)
    for s in ['left', 'bottom']:
        ax.spines[s].set_linewidth(2.8)
    ax.tick_params(direction='in', length=9, width=2.5, labelsize=29.5, pad=13)
    ax.tick_params(axis='x', pad=12)
    ax.set_ylabel(ylabel, fontsize=32.5, fontweight='bold')
    ax.yaxis.set_label_coords(-0.041, 0.5)
    if ax is axC:
        ax.set_xticklabels(month_names, fontweight='bold', fontsize=30)
        ax.set_xlabel('Time (month)', fontsize=32.5, fontweight='bold')
        ax.xaxis.set_label_coords(0.5, -0.262)
        ax.xaxis.label.set_verticalalignment('center')
    else:
        ax.set_xticklabels([])
        ax.set_xlabel('')

# legends
handles = [Line2D([], [], color=c, lw=4.8) for c in colors]
for ax, anchor in [(axA, (0.1384, 0.8516)), (axB, (0.8648, 0.6915)), (axC, (0.866, 0.3684))]:
    leg = ax.legend(handles, years, loc='upper left', bbox_to_anchor=anchor, bbox_transform=fig.transFigure,
                    prop={'family': 'Liberation Serif', 'weight': 'bold', 'size': 26},
                    handlelength=2.7, handletextpad=0.1, labelspacing=0.38, borderpad=0.3,
                    borderaxespad=0, fancybox=False, framealpha=1, edgecolor='black')
    leg.get_frame().set_linewidth(3.5)

# transit boundaries running through all three panels
for xv in transit_days:
    con = ConnectionPatch(xyA=(xv, 26.0), coordsA=axA.transData, xyB=(xv, 0), coordsB=axC.transData,
                          linestyle=(0, (3, 2)), linewidth=1.0, color='black')
    fig.add_artist(con)

arrow = dict(arrowstyle='simple,head_length=1.7,head_width=2.2,tail_width=0.75', color='black',
             mutation_scale=10, shrinkA=0, shrinkB=0)
axA.text(3.2, 25.19, 'Outside  of Roseway', fontsize=38, va='center', ha='left')
axA.annotate('', xy=(39.1, 25.19), xytext=(44.1, 25.19), arrowprops=arrow)
axA.text(66.5, 23.32, 'Transit 1', fontsize=37.5, va='center', ha='center')
axA.annotate('', xy=(52.2, 23.32), xytext=(57.3, 23.32), arrowprops=arrow)
axA.annotate('', xy=(80.9, 23.32), xytext=(75.9, 23.32), arrowprops=arrow)
axA.text(99.3, 23.37, 'Transit 2', fontsize=37.5, va='center', ha='center')
axA.annotate('', xy=(85.8, 23.37), xytext=(90.7, 23.37), arrowprops=arrow)
axA.annotate('', xy=(112.3, 23.37), xytext=(107.4, 23.37), arrowprops=arrow)

for label, y in [('A', 0.996), ('B', 0.684), ('C', 0.362)]:
    fig.text(0.001, y, label, fontsize=28, fontweight='bold', family='Liberation Sans', va='top', ha='left')

fig.savefig('out.png', dpi=100)
